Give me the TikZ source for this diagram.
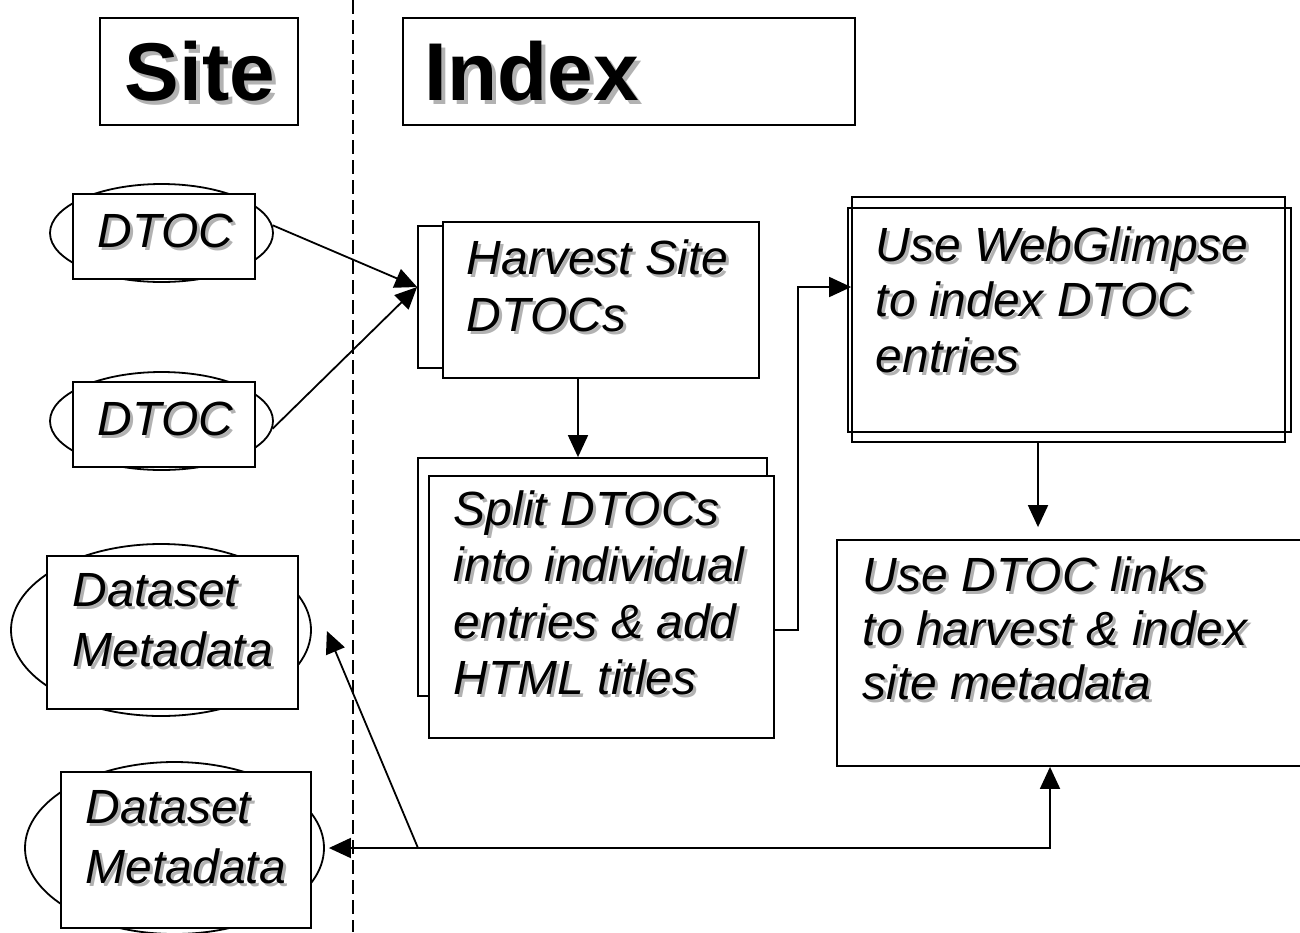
\documentclass[tikz,border=0pt]{standalone}
\usepackage{fontspec}
\setmainfont{Liberation Sans}
\usetikzlibrary{arrows.meta,shapes.geometric,fit,calc}
\definecolor{shgray}{RGB}{178,178,178}
\newcommand\shtext[2][28.5pt]{{\fontsize{24pt}{#1}\selectfont\itshape
  \rlap{\kern1.5pt\raisebox{-1.5pt}{\color{shgray}\begin{tabular}[t]{@{}l@{}}#2\end{tabular}}}%
  \begin{tabular}[t]{@{}l@{}}#2\end{tabular}}}
\newcommand\shbig[1]{{\fontsize{41pt}{48pt}\selectfont\bfseries
  \rlap{\kern2pt\raisebox{-2pt}{\color{shgray}#1}}#1}}
\begin{document}
\begin{tikzpicture}[x=0.5pt,y=-0.5pt, line width=0.9pt,
  box/.style={draw, fill=white, inner sep=0pt},
  outline/.style={draw, inner sep=0pt},
  oval/.style={draw, ellipse, fill=white, inner sep=0pt},
  txt/.style={anchor=base west, inner sep=0pt},
  arr/.style={-{Triangle[length=11pt,width=10pt]}},
  divider/.style={dash pattern=on 7pt off 3pt}
 ]
\useasboundingbox (0,0) rectangle (1300,932);
\fill[white] (0,0) rectangle (1300,932);

% divider
\coordinate (dtop) at (353,0);
\coordinate (dbot) at (353,932);
\draw[divider] (dtop) -- (dbot);

% titles
\node[box, fit={(100,18) (298,125)}] (site) {};
\node[txt] (sitet) at (124,100) {\shbig{Site}};
\node[box, fit={(403,18) (855,125)}] (index) {};
\node[txt] (indext) at (424,100) {\shbig{Index}};

% site side
\node[oval, minimum width=111.5pt, minimum height=49pt] (dtoc1e) at (161.5,233) {};
\node[box, fit={(73,194) (255,279)}] (dtoc1) {};
\node[txt] (dtoc1t) at (97,247) {\shtext{DTOC}};

\node[oval, minimum width=111.5pt, minimum height=49pt] (dtoc2e) at (161.5,421) {};
\node[box, fit={(73,382) (255,467)}] (dtoc2) {};
\node[txt] (dtoc2t) at (97,435) {\shtext{DTOC}};

\node[oval, minimum width=150pt, minimum height=86pt] (ds1e) at (161,630) {};
\node[box, fit={(47,556) (298,709)}] (ds1) {};
\node[txt] (ds1t) at (72,606) {\shtext[30pt]{Dataset\\Metadata}};

\node[oval, minimum width=149.5pt, minimum height=86pt] (ds2e) at (174.5,848) {};
\node[box, fit={(61,772) (311,928)}] (ds2) {};
\node[txt] (ds2t) at (85,823) {\shtext[30pt]{Dataset\\Metadata}};

% index side
\node[box, fit={(418,226) (740,368)}] (harvB) {};
\node[box, fit={(443,222) (759,378)}] (harvF) {};
\node[txt] (harvt) at (466,274) {\shtext{Harvest Site\\DTOCs}};

\node[box, fit={(418,458) (767,696)}] (splitB) {};
\node[box, fit={(429,476) (774,738)}] (splitF) {};
\node[txt] (splitt) at (453,525) {\shtext[28.3pt]{Split DTOCs\\into individual\\entries \& add\\HTML titles}};

\node[outline, fit={(852,197) (1285,442)}] (webA) {};
\node[outline, fit={(848,208) (1291,432)}] (webB) {};
\node[txt] (webt) at (875,261) {\shtext[27.75pt]{Use WebGlimpse\\to index DTOC\\entries}};

\node[box, fit={(837,540) (1306,766)}] (udtoc) {};
\node[txt] (udtoct) at (862,591) {\shtext[27pt]{Use DTOC links\\to harvest \& index\\site metadata}};

% connectors
\coordinate (hin) at ($(harvB.west)+(0,-10)$);
\draw[arr] (dtoc1e.4) -- (hin);
\draw[arr] (dtoc2e.-4) -- (hin);

\coordinate (c578) at (578,0);
\draw[arr] (harvF.south -| c578) -- (splitB.north -| c578);

\coordinate (c798) at (798,0);
\coordinate (wy) at ($(webA.west)+(0,-32.5)$);
\draw[arr] ($(splitF.east)+(0,23)$) -| (c798 |- wy) -- (wy);

\coordinate (c1038) at (1038,0);
\draw[arr] (webA.south -| c1038) -- ($(udtoc.north -| c1038)+(0,-12)$);

\coordinate (c1050) at (1050,0);
\coordinate (junc) at (418,848);
\draw[arr] (junc) -| (udtoc.south -| c1050);
\draw[arr] (junc) -- ($(ds2e.east)+(4,0)$);
\draw[arr] (junc) -- ($(ds1e.east)+(15,1)$);
\end{tikzpicture}
\end{document}
